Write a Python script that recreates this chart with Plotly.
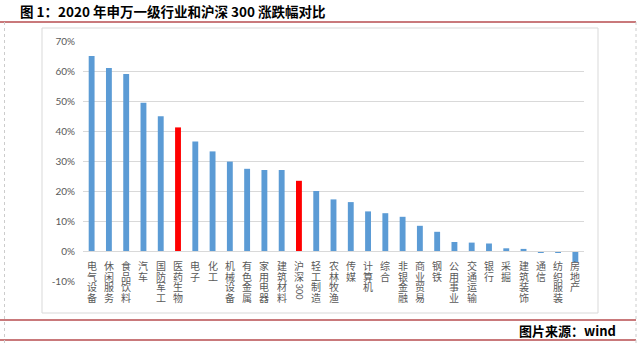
import plotly.graph_objects as go

categories = ["电气设备", "休闲服务", "食品饮料", "汽车", "国防军工", "医药生物", "电子", "化工",
              "机械设备", "有色金属", "家用电器", "建筑材料", "沪深300", "轻工制造", "农林牧渔",
              "传媒", "计算机", "综合", "非银金融", "商业贸易", "钢铁", "公用事业", "交通运输",
              "银行", "采掘", "建筑装饰", "通信", "纺织服装", "房地产"]
values = [0.650, 0.610, 0.590, 0.494, 0.449, 0.412, 0.365, 0.332,
          0.298, 0.274, 0.270, 0.270, 0.234, 0.200, 0.172,
          0.163, 0.132, 0.126, 0.114, 0.084, 0.064, 0.030, 0.028,
          0.025, 0.009, 0.007, -0.004, -0.004, -0.037]
highlight = ["医药生物", "沪深300"]
y_tickvals = [-0.1, 0.0, 0.1, 0.2, 0.3, 0.4, 0.5, 0.6, 0.7]
y_ticktext = ["-10%", "0%", "10%", "20%", "30%", "40%", "50%", "60%", "70%"]

colors = ["#ff0000" if c in highlight else "#5b9bd5" for c in categories]

fig = go.Figure()
fig.add_trace(go.Bar(x=categories, y=values, marker=dict(color=colors, line=dict(width=0)),
                     hoverinfo="skip"))

W, H = 640, 343
L, R, T, B = 83, 584, 41, 281
pw, ph = R - L, B - T

def px(x):
    return (x - L) / pw

def py(y):
    return (B - y) / ph

fig.update_layout(
    width=W, height=H,
    margin=dict(l=L, r=W - R, t=T, b=H - B),
    paper_bgcolor="white", plot_bgcolor="white",
    showlegend=False, bargap=0.66,
    font=dict(family="Noto Sans CJK SC, Lato, sans-serif", color="#595959"),
    xaxis=dict(
        tickmode="array", tickvals=categories, showticklabels=False,
        anchor="free", position=0.125,
        showline=True, linecolor="#d9d9d9", linewidth=1,
        showgrid=False, ticks="",
    ),
    yaxis=dict(
        range=[-0.1, 0.7], tickmode="array", tickvals=y_tickvals, ticktext=y_ticktext,
        showgrid=True, gridcolor="#d9d9d9", gridwidth=1,
        zeroline=False, showline=False, ticks="", ticklabelstandoff=7,
        tickfont=dict(size=10, color="#595959", family="Lato, Open Sans, sans-serif"),
    ),
)

# vertical (stacked) category labels, one character per text, digit runs rotated
pitch = 10.5
first = 14.5
for cat in categories:
    slot = 0
    i = 0
    while i < len(cat):
        ch = cat[i]
        if ch.isdigit():
            j = i
            while j < len(cat) and cat[j].isdigit():
                j += 1
            run = cat[i:j]
            center = slot + 0.5
            fig.add_annotation(x=cat, y=0, xref="x", yref="y", text=run, textangle=90,
                               showarrow=False, xanchor="center", yanchor="middle",
                               yshift=-(first + center * pitch),
                               font=dict(size=9, color="#595959", family="Lato, sans-serif"))
            slot += 2
            i = j
        else:
            fig.add_annotation(x=cat, y=0, xref="x", yref="y", text=ch,
                               showarrow=False, xanchor="center", yanchor="middle",
                               yshift=-(first + slot * pitch),
                               font=dict(size=10, color="#595959", family="Noto Sans CJK SC"))
            slot += 1
            i += 1

shapes = []
# chart box
shapes.append(dict(type="rect", xref="paper", yref="paper",
                   x0=px(42), x1=px(598), y0=py(313), y1=py(28),
                   line=dict(color="#d9d9d9", width=1), layer="below"))
# red rules
for yy in [22, 320, 340]:
    shapes.append(dict(type="line", xref="paper", yref="paper",
                       x0=px(0), x1=px(636), y0=py(yy), y1=py(yy),
                       line=dict(color="#c9797b", width=2)))
# dotted page edges
for xx in [4.5, 636]:
    shapes.append(dict(type="line", xref="paper", yref="paper",
                       x0=px(xx), x1=px(xx), y0=py(22), y1=py(343),
                       line=dict(color="#cccccc", width=1, dash="dot")))
fig.update_layout(shapes=shapes)

fig.add_annotation(text="<b>图 1：2020 年申万一级行业和沪深 300 涨跌幅对比</b>",
                   xref="paper", yref="paper", x=px(18), y=py(11),
                   xanchor="left", yanchor="middle", showarrow=False,
                   font=dict(size=13.5, color="#000000", family="Noto Sans CJK SC"))
fig.add_annotation(text="<b>图片来源：wind</b>",
                   xref="paper", yref="paper", x=px(618), y=py(330.5),
                   xanchor="right", yanchor="middle", showarrow=False,
                   font=dict(size=13, color="#000000", family="Noto Sans CJK SC"))

fig.write_html("out.html")
